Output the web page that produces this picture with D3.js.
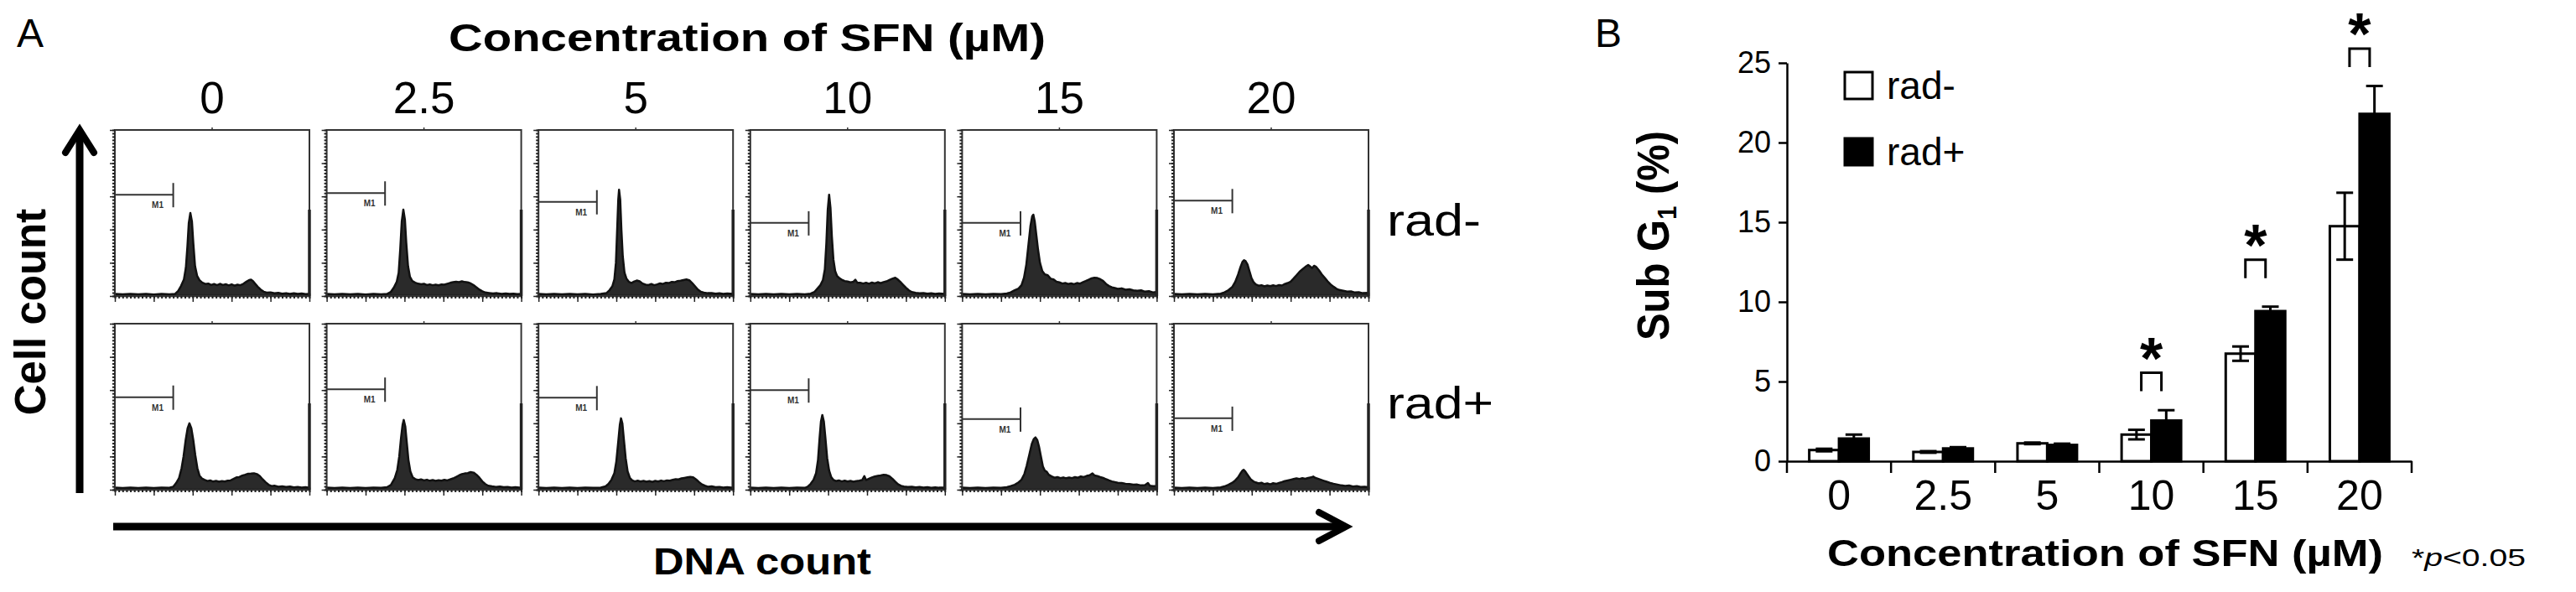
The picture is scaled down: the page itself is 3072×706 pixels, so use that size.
<!DOCTYPE html>
<html>
<head>
<meta charset="utf-8">
<script src="https://cdn.jsdelivr.net/npm/d3@7"></script>
<style>
  body { margin: 0; background: #fff; }
  text { font-family: "Liberation Sans", Arial, sans-serif; fill: #000; }
</style>
</head>
<body>
<svg id="fig" width="3072" height="706"></svg>
<script>
// ---- data ----
var concLabels = ['0', '2.5', '5', '10', '15', '20'];
var rowLabels = ['rad-', 'rad+'];

// DNA histograms: [channel %, cell count % of full scale]
var histRadMinus = [
  [[0,1.2],[4,1],[8,1.3],[12,1],[16,1.2],[20,0.9],[24,1.2],[28,1],[31,1.3],[32.5,3],[34,6],[35.5,10],[36.5,17],[37.3,30],[38,44],[38.8,50],[39.6,45],[40.3,32],[41.2,18],[42.3,12],[43.5,9.5],[45,8],[46.5,7.2],[48,7.5],[49.5,6.6],[51,7.2],[52.5,6.5],[54,7.3],[55.5,6.6],[57,7.1],[58.5,6.4],[60,7],[61.5,6.2],[63,6.8],[64.5,6.5],[66,7.3],[67.5,8.5],[69,9.6],[70,9.8],[71,9],[72,7.5],[73.5,5.5],[75,3.8],[76.5,2.6],[78,2],[80,2.2],[82,1.6],[84,1.9],[86,1.4],[88,1.7],[90,1.3],[92,1.6],[94,1.2],[96,1.5],[98,1.1],[100,1.3]],
  [[0,1.2],[4,1],[8,1.3],[12,1],[16,1.2],[20,0.9],[24,1.2],[28,1],[31,1.2],[33,2.5],[34.5,5],[36,8.5],[37,14],[37.8,28],[38.6,45],[39.4,52],[40.2,46],[40.9,32],[41.8,18],[42.8,11.5],[44,9],[45.5,8],[47,7.4],[48.5,7.1],[50,7.3],[51.5,6.6],[53,7],[54.5,6.5],[56,6.8],[57.5,6.4],[59,6.9],[60.5,6.8],[62,7.4],[63.5,7.9],[65,8.3],[66.5,8.6],[68,8.3],[69.5,8.8],[71,8.4],[72.5,8.2],[74,7.6],[75.5,6.5],[77,5.2],[78.5,3.8],[80,2.8],[81.5,2.1],[83.5,1.8],[85.5,1.5],[87.5,1.7],[90,1.3],[92,1.5],[94,1.2],[96,1.4],[98,1.1],[100,1.3]],
  [[0,1.3],[4,1],[8,1.2],[12,1],[16,1.3],[20,1],[24,1.2],[28,0.9],[32,1.2],[35,1.8],[36.5,3.5],[38,6],[39,10],[39.8,20],[40.5,42],[41,58],[41.4,64],[42,58],[42.6,40],[43.3,24],[44.2,14],[45.2,10.5],[46.5,8.5],[47.8,7.8],[49,8.6],[50.5,9.3],[52,8.8],[53.5,7.5],[55,6.8],[56.5,6.6],[58,7.2],[59.5,6.5],[61,7],[62.5,7.6],[64,7.2],[65.5,8],[67,7.8],[68.5,8.5],[70,8.3],[71.5,9],[73,9.2],[74.5,9.6],[76,10],[77.5,9.5],[79,7.8],[80.5,5.8],[82,3.8],[83.5,2.5],[85,2],[87,1.7],[89,1.8],[91,1.4],[93,1.6],[95,1.3],[97,1.5],[100,1.2]],
  [[0,1.2],[4,1],[8,1.3],[12,1],[16,1.2],[20,1],[24,1.3],[28,1],[31,1.4],[33,2.5],[34.5,4.5],[36,6.5],[37.3,9.5],[38.3,16],[39.1,32],[39.8,52],[40.5,61],[41.2,53],[41.9,36],[42.7,22],[43.6,15],[44.6,12],[46,10.5],[47.3,9.6],[48.5,9],[50,8.7],[51.5,8.2],[53,8.6],[54,9.8],[55,8],[56.5,7.9],[58,7.5],[59.5,8],[61,7.4],[62.5,8.1],[64,7.6],[65.5,8.3],[67,7.7],[68.5,8.4],[70,8.8],[71.5,9.6],[73,10.4],[74.5,11],[75.5,10.2],[77,8.6],[78.5,6.8],[80,5],[81.5,3.4],[83,2.4],[85,1.9],[87,1.6],[89,1.8],[91,1.4],[93,1.6],[95,1.3],[97,1.5],[100,1.2]],
  [[0,1.2],[4,1],[8,1.3],[12,1],[16,1.2],[20,1.1],[23,1.5],[25,2.2],[27,3.5],[29,4.5],[30.5,6.5],[31.8,11],[33,19],[34.1,31],[35.1,42],[36,48],[36.6,49],[37.3,45],[38.2,36],[39,28],[40,20],[41.2,15],[42.5,13],[44,12.5],[45.5,10.4],[47,10],[48.5,8.6],[50,8.2],[51.5,7.5],[53,7.8],[54.5,7.2],[56,7.6],[57.5,7.1],[59,7.8],[60.5,7.4],[62,8.3],[63.5,9],[65,9.8],[66.5,10.6],[68,11],[69.5,10.8],[71,10.1],[72.5,9],[74,7.2],[75.5,6],[77,5.2],[78.5,4.8],[80,4.3],[82,4.6],[84,3.8],[86,4],[88,3.4],[90,3.1],[92,3.4],[94,2.6],[96,2.9],[98,2.2],[100,2.4]],
  [[0,1.2],[4,1],[8,1.3],[12,1],[16,1.2],[20,1],[24,1.4],[26,2.2],[28,3.5],[30,5.5],[31.5,8.5],[33,13],[34.2,17.5],[35.2,20.5],[36,21.6],[36.8,21],[37.8,19],[38.8,15],[39.8,11],[40.8,8.5],[42,7],[43.5,6.2],[45,6.5],[46.5,5.8],[48,6.3],[49.5,5.9],[51,6.4],[52.5,6],[54,6.6],[55.5,6.3],[57,7.2],[58.5,7.8],[60,8.6],[61.5,10.5],[63,12.5],[64.5,14.5],[66,16],[67.5,17.5],[69,18.7],[70,17.8],[71,16.8],[72,18.2],[73,17.6],[74.5,15.5],[76,13],[77.5,11],[79,8.8],[80.5,7],[82,5.6],[83.5,4.4],[85,3.6],[87,3.2],[89,2.6],[91,2.8],[93,2.1],[95,2.3],[97,1.7],[100,1.9]]
];
var histRadPlus = [
  [[0,1.2],[4,1],[8,1.3],[12,1],[16,1.2],[20,1],[24,1.3],[28,1.1],[30,1.8],[31.5,4],[33,7],[34.3,13],[35.3,20],[36.4,30],[37.4,37],[38.3,40],[39.3,37],[40.3,30],[41.3,21],[42.4,13],[43.5,8.5],[44.7,6.8],[46,6],[47.5,5.2],[49,5.6],[50.5,4.9],[52,5.3],[53.5,4.8],[55,5.2],[56.5,4.9],[58,5.4],[59.5,5.6],[61,6.5],[62.5,7.4],[64,7.6],[65.5,8.5],[67,9],[68.5,9.6],[70,9.7],[71.5,9.9],[73,9.4],[74.5,8.2],[76,6.2],[77.5,4.5],[79,3],[80.5,2.2],[82,2.4],[84,1.8],[86,2],[88,1.6],[90,1.9],[92,1.4],[94,1.7],[96,1.3],[98,1.5],[100,1.2]],
  [[0,1.2],[4,1],[8,1.3],[12,1],[16,1.2],[20,1],[24,1.3],[28,1.1],[31,1.5],[33,2.8],[35,7],[36.3,12],[37.3,20],[38.2,31],[39,39],[39.6,42],[40.4,38],[41.2,28],[42,18],[43,11],[44.2,7.5],[45.5,6.4],[47,5.8],[48.5,6.2],[50,5.6],[51.5,6],[53,5.4],[54.5,5.8],[56,5.3],[57.5,5.7],[59,5.4],[60.5,5.9],[62,5.6],[63.5,6.2],[65,6.8],[66.5,7.6],[68,8.6],[69.5,9.4],[71,9.8],[72.5,10],[74,10.6],[75.5,10.3],[77,9],[78.5,7.2],[80,5],[81.5,3.4],[83,2.4],[85,2],[87,1.7],[89,1.9],[91,1.5],[93,1.7],[95,1.3],[97,1.5],[100,1.2]],
  [[0,1.2],[4,1],[8,1.3],[12,1],[16,1.2],[20,1],[24,1.3],[28,1.1],[32,1.3],[34.5,2],[36,3.5],[37.5,6],[39,10],[40,17],[41,29],[41.8,39],[42.4,43],[43.1,40],[43.9,30],[44.8,19],[45.8,11],[47,7],[48.2,5.6],[49.5,5],[51,5.4],[52.5,4.9],[54,5.3],[55.5,4.8],[57,5.2],[58.5,4.7],[60,5.3],[61.5,4.9],[63,5.5],[64.5,5.1],[66,5.6],[67.5,5.4],[69,5.9],[70.5,6.3],[72,6.2],[73.5,6.8],[75,7.1],[76.5,7.4],[78,7.7],[79.5,7.5],[81,6.2],[82.5,4.6],[84,3.2],[85.5,2.4],[87,1.8],[89,2],[91,1.5],[93,1.7],[95,1.3],[97,1.5],[100,1.2]],
  [[0,1.2],[4,1],[8,1.3],[12,1],[16,1.2],[20,1],[24,1.3],[28,1.1],[29.5,1.8],[31,3.5],[32.5,6],[33.8,10],[34.8,18],[35.6,31],[36.3,41],[37,45],[37.8,41],[38.6,31],[39.5,19],[40.5,11.5],[41.6,7.5],[42.8,5.8],[44,5.2],[45.5,5.6],[47,5],[48.5,5.4],[50,4.9],[51.5,5.3],[53,4.8],[54.5,5.2],[56,5.4],[57.5,5.8],[58.6,8.2],[59.5,5.8],[61,6.6],[62.5,7.4],[64,8],[65.5,8.3],[67,8.6],[68.5,9],[70,8.8],[71.5,8.1],[73,6.6],[74.5,4.8],[76,3.2],[77.5,2.3],[79,1.9],[81,1.6],[83,1.8],[85,1.4],[87,1.6],[89,1.3],[91,1.5],[93,1.2],[95,1.4],[97,1.2],[100,1.3]],
  [[0,1.2],[4,1],[8,1.3],[12,1],[16,1.2],[20,1.1],[23,1.5],[25,2.2],[27,3],[29,4.4],[30.5,6],[32,9.5],[33.2,14.5],[34.5,21],[35.8,27.5],[36.8,30.5],[37.7,31.5],[38.6,30],[39.5,26],[40.5,20],[41.5,14],[42.5,11.5],[43.5,10.8],[44.5,9],[46,8],[47.5,7.2],[49,7.6],[50.5,7],[52,7.4],[53.5,6.9],[55,7.3],[56.5,7],[58,7.6],[59.5,7.2],[61,8],[62.5,7.6],[64,8.3],[65.5,8.7],[67,9.8],[68,8.6],[69.5,8.2],[71,7.6],[72.5,7.1],[74,6.3],[75.5,5.6],[77,5],[78.5,4.6],[80,4.2],[82,4],[84,3.6],[86,3.4],[88,3],[90,3.1],[92,2.6],[94,2.8],[95.5,4],[96.5,2.4],[98,2.1],[100,2.2]],
  [[0,1.2],[4,1],[8,1.3],[12,1],[16,1.2],[20,1],[24,1.4],[26,2],[28,3],[30,4.2],[31.5,5.6],[33,7.5],[34.3,10],[35.2,11.5],[35.8,12],[36.5,11.2],[37.5,9.5],[38.5,7.8],[39.5,6.2],[40.8,5],[42,4.4],[43.5,3.8],[45,4.2],[46.5,3.4],[48,3.8],[49.5,3.2],[51,3.9],[52.5,3.5],[54,4.1],[55.5,4.6],[57,5.2],[58.5,5.6],[60,6],[61.5,6.4],[63,6.8],[64.5,6.5],[66,6.9],[67.5,6.6],[69,7.1],[70.5,7.4],[71.6,7.9],[72.5,7.2],[74,6.6],[75.5,6],[77,5.4],[78.5,4.8],[80,4.2],[82,3.6],[84,3.1],[86,2.6],[88,2.3],[90,2.5],[92,1.9],[94,2.1],[96,1.6],[98,1.8],[100,1.5]]
];

// M1 gate level (count %) and gate end channel
var m1RadMinus = [61, 62, 56.7, 44, 44, 57.4];
var m1RadPlus = [55.7, 60.5, 55.4, 60, 42.5, 43];
var m1GateEnd = 30;

// Sub G1 (%)
var subG1RadMinus = [0.7, 0.58, 1.12, 1.67, 6.75, 14.75];
var subG1RadMinusErr = [0.08, 0.05, 0.05, 0.3, 0.45, 2.1];
var subG1RadPlus = [1.42, 0.8, 1.02, 2.55, 9.42, 21.8];
var subG1RadPlusErr = [0.25, 0.08, 0.08, 0.65, 0.28, 1.75];
var sigConc = ['10', '15', '20'];
var sigBracketTop = [5.55, 12.65, 25.9];
var yTicksB = [0, 5, 10, 15, 20, 25];

var svg = d3.select('#fig');

// ================= panel A =================
var colScale = d3.scaleBand().domain(concLabels).range([137, 1632]).paddingInner(0.0816);
var rowScale = d3.scaleBand().domain(rowLabels).range([155, 584]).paddingInner(0.143);
var bw = colScale.bandwidth();
var bh = rowScale.bandwidth();
var hx = d3.scaleLinear().domain([0, 100]).range([0, bw]);
var hy = d3.scaleLinear().domain([0, 100]).range([bh, 0]);

var area = d3.area()
  .x(function(d) { return hx(d[0]); })
  .y0(hy(0))
  .y1(function(d) { return hy(d[1]); });

var cells = [];
rowLabels.forEach(function(r, ri) {
  var hist = ri === 0 ? histRadMinus : histRadPlus;
  var m1 = ri === 0 ? m1RadMinus : m1RadPlus;
  concLabels.forEach(function(c, ci) {
    cells.push({ row: r, conc: c, hist: hist[ci], m1: m1[ci] });
  });
});

var cell = svg.selectAll('.cell')
  .data(cells)
  .enter()
  .append('g')
  .attr('class', 'cell')
  .attr('transform', function(d) {
    return 'translate(' + colScale(d.conc) + ',' + rowScale(d.row) + ')';
  });

cell.append('path')
  .attr('d', function(d) { return area(d.hist); })
  .style('fill', '#2a2a2a')
  .style('stroke', '#111')
  .style('stroke-width', 2.5)
  .style('stroke-linejoin', 'round');

cell.append('rect')
  .attr('width', bw)
  .attr('height', bh)
  .style('fill', 'none')
  .style('stroke', '#333')
  .style('stroke-width', 2);

// thicker lower right edge
cell.append('line')
  .attr('x1', bw).attr('x2', bw)
  .attr('y1', hy(52)).attr('y2', hy(0))
  .style('stroke', '#222')
  .style('stroke-width', 3.5);

// top centre tick
cell.append('line')
  .attr('x1', hx(50)).attr('x2', hx(50))
  .attr('y1', -3).attr('y2', 0)
  .style('stroke', '#333')
  .style('stroke-width', 1.5);

// left and bottom tick marks
cell.append('g')
  .call(d3.axisLeft(hy).ticks(40).tickSize(3).tickSizeOuter(0).tickFormat(''))
  .call(function(g) { g.select('.domain').remove(); })
  .selectAll('line').style('stroke', '#222').style('stroke-width', 2);
cell.append('g')
  .call(d3.axisLeft(hy).ticks(5).tickSize(6).tickSizeOuter(0).tickFormat(''))
  .call(function(g) { g.select('.domain').remove(); })
  .selectAll('line').style('stroke', '#222').style('stroke-width', 1.5);
cell.append('g')
  .attr('transform', 'translate(0,' + bh + ')')
  .call(d3.axisBottom(hx).ticks(40).tickSize(3).tickSizeOuter(0).tickFormat(''))
  .call(function(g) { g.select('.domain').remove(); })
  .selectAll('line').style('stroke', '#222').style('stroke-width', 2);
cell.append('g')
  .attr('transform', 'translate(0,' + bh + ')')
  .call(d3.axisBottom(hx).ticks(5).tickSize(7).tickSizeOuter(0).tickFormat(''))
  .call(function(g) { g.select('.domain').remove(); })
  .selectAll('line').style('stroke', '#222').style('stroke-width', 1.5);

// M1 gate marker
cell.append('line')
  .attr('x1', hx(0)).attr('x2', hx(m1GateEnd))
  .attr('y1', function(d) { return hy(d.m1); })
  .attr('y2', function(d) { return hy(d.m1); })
  .style('stroke', '#333')
  .style('stroke-width', 2);
cell.append('line')
  .attr('x1', hx(m1GateEnd)).attr('x2', hx(m1GateEnd))
  .attr('y1', function(d) { return hy(d.m1) - 14; })
  .attr('y2', function(d) { return hy(d.m1) + 15; })
  .style('stroke', '#333')
  .style('stroke-width', 2);
cell.append('text')
  .attr('x', hx(22))
  .attr('y', function(d) { return hy(d.m1) + 16; })
  .attr('text-anchor', 'middle')
  .style('font-size', '10px')
  .style('font-weight', 'bold')
  .style('fill', '#333')
  .text('M1');

// column labels
svg.selectAll('.col-label')
  .data(concLabels)
  .enter()
  .append('text')
  .attr('class', 'col-label')
  .attr('x', function(d) { return colScale(d) + bw / 2; })
  .attr('y', 135)
  .attr('text-anchor', 'middle')
  .style('font-size', '53px')
  .text(function(d) { return d; });

// row labels
var rowLabelY = [281, 499];
svg.selectAll('.row-label')
  .data(rowLabels)
  .enter()
  .append('text')
  .attr('class', 'row-label')
  .attr('x', 1654)
  .attr('y', function(d, i) { return rowLabelY[i]; })
  .attr('textLength', function(d, i) { return i === 0 ? 112 : 127; })
  .attr('lengthAdjust', 'spacingAndGlyphs')
  .style('font-size', '53px')
  .text(function(d) { return d; });

svg.append('text')
  .attr('x', 20).attr('y', 56)
  .style('font-size', '48px')
  .text('A');

svg.append('text')
  .attr('x', 535).attr('y', 61)
  .attr('textLength', 712)
  .attr('lengthAdjust', 'spacingAndGlyphs')
  .style('font-size', '47px')
  .style('font-weight', 'bold')
  .text('Concentration of SFN (µM)');

svg.append('text')
  .attr('transform', 'translate(54,372) rotate(-90)')
  .attr('text-anchor', 'middle')
  .style('font-size', '51px')
  .style('font-weight', 'bold')
  .text('Cell count');

svg.append('text')
  .attr('x', 779).attr('y', 685)
  .attr('textLength', 260)
  .attr('lengthAdjust', 'spacingAndGlyphs')
  .style('font-size', '45px')
  .style('font-weight', 'bold')
  .text('DNA count');

// arrows
var arrowX = 95, arrowTop = 153, arrowBottom = 588;
svg.append('line')
  .attr('x1', arrowX).attr('x2', arrowX)
  .attr('y1', arrowBottom).attr('y2', arrowTop + 4)
  .style('stroke', '#000').style('stroke-width', 9);
svg.append('polyline')
  .attr('points', [[arrowX - 17, arrowTop + 29], [arrowX, arrowTop + 2], [arrowX + 17, arrowTop + 29]].join(' '))
  .style('fill', 'none').style('stroke', '#000').style('stroke-width', 8)
  .style('stroke-linecap', 'round');

var arrowY = 628, arrowLeft = 135, arrowRight = 1607;
svg.append('line')
  .attr('x1', arrowLeft).attr('x2', arrowRight - 4)
  .attr('y1', arrowY).attr('y2', arrowY)
  .style('stroke', '#000').style('stroke-width', 9);
svg.append('polyline')
  .attr('points', [[arrowRight - 34, arrowY - 17], [arrowRight - 2, arrowY], [arrowRight - 34, arrowY + 17]].join(' '))
  .style('fill', 'none').style('stroke', '#000').style('stroke-width', 8)
  .style('stroke-linecap', 'round');

// ================= panel B =================
var x = d3.scaleBand().domain(concLabels).range([2131, 2876]);
var xi = d3.scaleBand().domain(rowLabels).range([0, x.bandwidth()]).paddingOuter(0.75);
var y = d3.scaleLinear().domain([0, 25]).range([550, 75]);

var barData = [];
concLabels.forEach(function(c, i) {
  barData.push({ conc: c, group: 'rad-', value: subG1RadMinus[i], err: subG1RadMinusErr[i] });
  barData.push({ conc: c, group: 'rad+', value: subG1RadPlus[i], err: subG1RadPlusErr[i] });
});

svg.selectAll('.bar')
  .data(barData)
  .enter()
  .append('rect')
  .attr('class', 'bar')
  .attr('x', function(d) { return x(d.conc) + xi(d.group); })
  .attr('y', function(d) { return y(d.value); })
  .attr('width', xi.bandwidth())
  .attr('height', function(d) { return y(0) - y(d.value); })
  .style('fill', function(d) { return d.group === 'rad-' ? '#fff' : '#000'; })
  .style('stroke', '#000')
  .style('stroke-width', 3);

// error bars (lower half hidden inside the black rad+ bars)
var errG = svg.selectAll('.err')
  .data(barData)
  .enter()
  .append('g')
  .attr('class', 'err')
  .attr('transform', function(d) {
    return 'translate(' + (x(d.conc) + xi(d.group) + xi.bandwidth() / 2) + ',0)';
  });
errG.append('line')
  .attr('y1', function(d) { return y(d.group === 'rad-' ? d.value - d.err : d.value); })
  .attr('y2', function(d) { return y(d.value + d.err); })
  .style('stroke', '#000')
  .style('stroke-width', 3);
errG.append('line')
  .attr('x1', -10).attr('x2', 10)
  .attr('y1', function(d) { return y(d.value + d.err); })
  .attr('y2', function(d) { return y(d.value + d.err); })
  .style('stroke', '#000').style('stroke-width', 3);
errG.filter(function(d) { return d.group === 'rad-'; })
  .append('line')
  .attr('x1', -10).attr('x2', 10)
  .attr('y1', function(d) { return y(d.value - d.err); })
  .attr('y2', function(d) { return y(d.value - d.err); })
  .style('stroke', '#000')
  .style('stroke-width', 3);

// axes
var yAxisG = svg.append('g')
  .attr('transform', 'translate(2131,0)')
  .call(d3.axisLeft(y).tickValues(yTicksB).tickSize(10).tickSizeOuter(0).tickPadding(9));
yAxisG.selectAll('text')
  .style('font-size', '36px')
  .style('font-family', '"Liberation Sans", Arial, sans-serif');
yAxisG.selectAll('line, path').style('stroke', '#000').style('stroke-width', 2.5);

var xAxisG = svg.append('g')
  .attr('transform', 'translate(0,550)')
  .call(d3.axisBottom(x).tickSize(0).tickSizeOuter(0).tickPadding(22));
xAxisG.selectAll('text')
  .style('font-size', '50px')
  .style('font-family', '"Liberation Sans", Arial, sans-serif');
xAxisG.select('.domain').style('stroke', '#000').style('stroke-width', 2.5);
xAxisG.selectAll('.bound')
  .data(concLabels.map(function(c) { return x(c); }).concat([x.range()[1]]))
  .enter()
  .append('line')
  .attr('class', 'bound')
  .attr('x1', function(d) { return d; })
  .attr('x2', function(d) { return d; })
  .attr('y1', 0).attr('y2', 14)
  .style('stroke', '#000').style('stroke-width', 2.5);

// significance brackets
var sig = svg.selectAll('.sig')
  .data(sigConc)
  .enter()
  .append('g')
  .attr('class', 'sig')
  .attr('transform', function(d, i) {
    return 'translate(' + (x(d) + x.bandwidth() / 2) + ',' + y(sigBracketTop[i]) + ')';
  });
sig.append('path')
  .attr('d', 'M-12,22V0H12V22')
  .style('fill', 'none').style('stroke', '#000').style('stroke-width', 3);
sig.append('text')
  .attr('y', 7)
  .attr('text-anchor', 'middle')
  .style('font-size', '70px')
  .style('font-weight', 'bold')
  .text('*');

// legend
var legend = svg.selectAll('.legend')
  .data(rowLabels)
  .enter()
  .append('g')
  .attr('class', 'legend')
  .attr('transform', function(d, i) { return 'translate(2200,' + (86 + i * 79) + ')'; });
legend.append('rect')
  .attr('width', 33).attr('height', 32)
  .style('fill', function(d) { return d === 'rad-' ? '#fff' : '#000'; })
  .style('stroke', '#000').style('stroke-width', 3);
legend.append('text')
  .attr('x', 50).attr('y', 32)
  .style('font-size', '46px')
  .text(function(d) { return d; });

svg.append('text')
  .attr('x', 1902).attr('y', 56)
  .style('font-size', '48px')
  .text('B');

var yTitle = svg.append('text')
  .attr('transform', 'translate(1990,281) rotate(-90) scale(1,1.1)')
  .attr('text-anchor', 'middle')
  .style('font-size', '49px')
  .style('font-weight', 'bold');
yTitle.append('tspan').text('Sub G');
yTitle.append('tspan').attr('dy', 8).style('font-size', '29px').text('1');
yTitle.append('tspan').attr('dy', -8).text(' (%)');

svg.append('text')
  .attr('x', 2179).attr('y', 675)
  .attr('textLength', 663)
  .attr('lengthAdjust', 'spacingAndGlyphs')
  .style('font-size', '45px')
  .style('font-weight', 'bold')
  .text('Concentration of SFN (µM)');

var pNote = svg.append('text')
  .attr('x', 2876).attr('y', 675)
  .attr('textLength', 136)
  .attr('lengthAdjust', 'spacingAndGlyphs')
  .style('font-size', '30px');
pNote.append('tspan').text('*');
pNote.append('tspan').style('font-style', 'italic').text('p');
pNote.append('tspan').text('<0.05');
</script>
</body>
</html>
